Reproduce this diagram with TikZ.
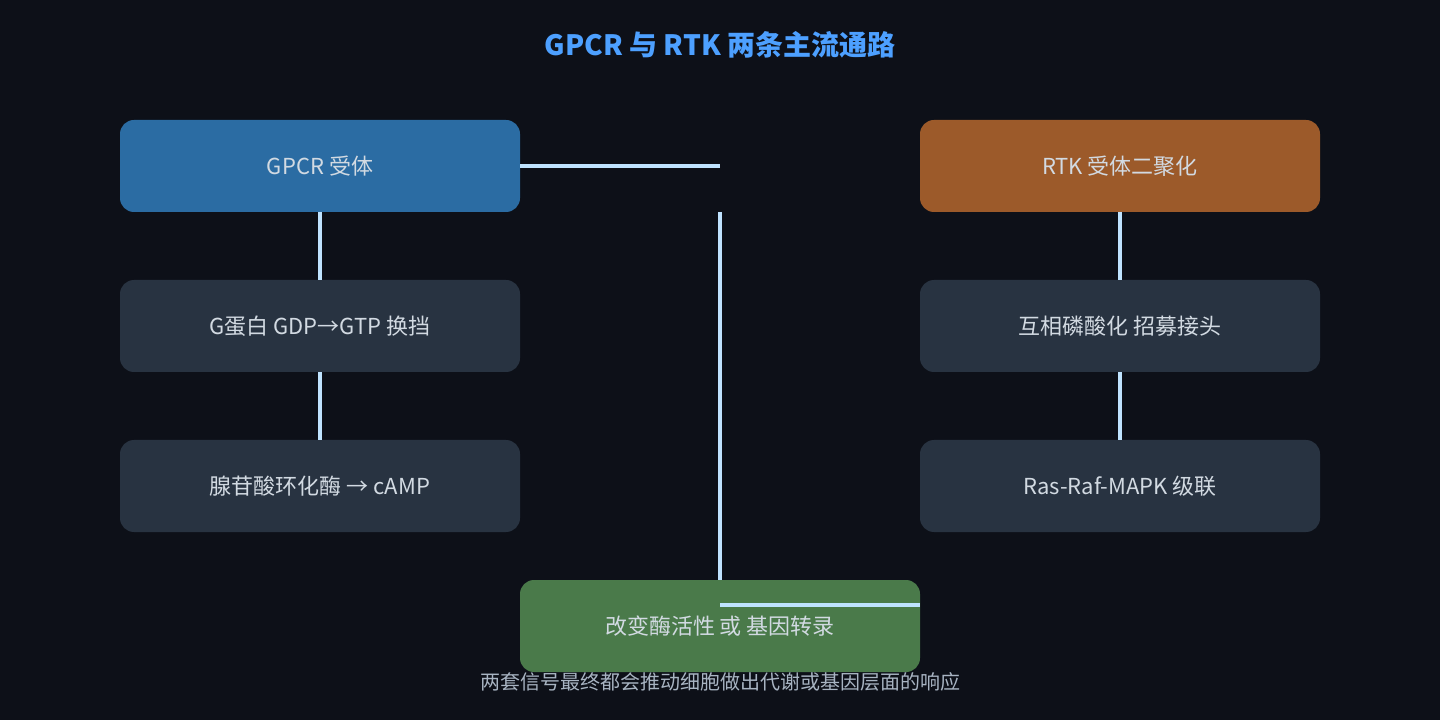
\documentclass[tikz,border=0pt]{standalone}
\usepackage{fontspec}
\setmainfont{Noto Sans CJK SC}
\begin{document}
\begin{tikzpicture}[x=0.75pt,y=-0.75pt,
  box/.style={rounded corners=10.5pt,minimum width=300pt,minimum height=69pt,inner sep=0pt,text=txt,font=\fontsize{16.5}{20}\selectfont},
  conn/.style={draw=ln,line width=2.4pt}]
\definecolor{bg}{HTML}{0D1018}
\definecolor{txt}{HTML}{D2DAE2}
\definecolor{ln}{HTML}{BFE3FF}
\definecolor{blu}{HTML}{2B6CA3}
\definecolor{org}{HTML}{9C5A2A}
\definecolor{drk}{HTML}{283341}
\definecolor{grn}{HTML}{4A7A4A}
\definecolor{ttl}{HTML}{4DA0FF}
\definecolor{ft}{HTML}{A8B4C2}
\fill[bg] (0,0) rectangle (1440,720);
\useasboundingbox (0,0) rectangle (1440,720);
\node[text=ttl,font=\fontsize{21}{25}\selectfont\bfseries] (title) at (720,45) {GPCR 与 RTK 两条主流通路};
\node[box,fill=blu] (g1) at (320,166) {GPCR 受体};
\node[box,fill=drk] (g2) at (320,326) {G蛋白 GDP→GTP 换挡};
\node[box,fill=drk] (g3) at (320,486) {腺苷酸环化酶 → cAMP};
\node[box,fill=org] (r1) at (1120,166) {RTK 受体二聚化};
\node[box,fill=drk] (r2) at (1120,326) {互相磷酸化 招募接头};
\node[box,fill=drk] (r3) at (1120,486) {Ras-Raf-MAPK 级联};
\node[box,fill=grn] (out) at (720,626) {改变酶活性 或 基因转录};
\node[text=ft,font=\fontsize{15}{18}\selectfont] (foot) at (720,682) {两套信号最终都会推动细胞做出代谢或基因层面的响应};
\coordinate (c1) at (720,166);
\coordinate (c2) at (720,212);
\coordinate (c3) at (720,605);
\coordinate (c4) at (920,605);
\draw[conn] (g1.east) -- (c1);
\draw[conn] (c2) -- (out.north);
\draw[conn] (c3) -- (c4);
\draw[conn] (g1) -- (g2);
\draw[conn] (g2) -- (g3);
\draw[conn] (r1) -- (r2);
\draw[conn] (r2) -- (r3);
\end{tikzpicture}
\end{document}
